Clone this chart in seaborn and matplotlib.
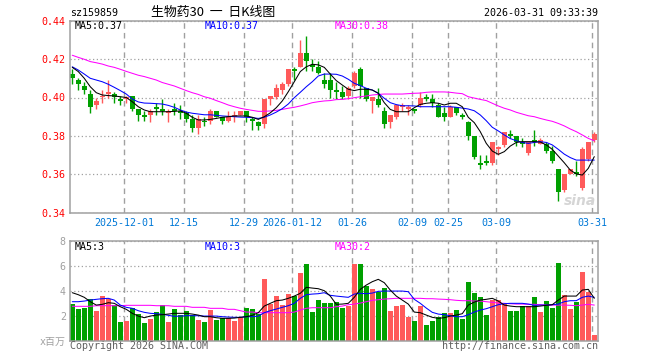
import numpy as np
import pandas as pd
import seaborn as sns
import matplotlib.pyplot as plt

# 88 trading sessions, 2025-11-18 .. 2026-03-31 (index positions)
tick_days = [9, 19, 29, 37, 47, 57, 63, 71, 87]
tick_labels = ["2025-12-01", "12-15", "12-29", "2026-01-12", "01-26",
               "02-09", "02-25", "03-09", "03-31"]

opens = [0.412, 0.409, 0.406, 0.402, 0.396, 0.400, 0.402, 0.402, 0.399, 0.399,
         0.401, 0.394, 0.391, 0.391, 0.395, 0.394, 0.392, 0.394, 0.393, 0.392,
         0.389, 0.384, 0.388, 0.388, 0.393, 0.390, 0.388, 0.390, 0.391, 0.393,
         0.389, 0.387, 0.386, 0.399, 0.400, 0.404, 0.407, 0.415, 0.416, 0.423,
         0.417, 0.416, 0.409, 0.409, 0.404, 0.403, 0.401, 0.406, 0.415, 0.405,
         0.398, 0.399, 0.393, 0.387, 0.390, 0.395, 0.394, 0.394, 0.396, 0.400,
         0.399, 0.396, 0.392, 0.390, 0.395, 0.391, 0.387, 0.380, 0.366, 0.367,
         0.366, 0.373, 0.375, 0.381, 0.380, 0.377, 0.371, 0.378, 0.376, 0.376,
         0.372, 0.363, 0.352, 0.360, 0.361, 0.353, 0.368, 0.378]
highs = [0.415, 0.410, 0.408, 0.404, 0.400, 0.404, 0.409, 0.403, 0.401, 0.401,
         0.401, 0.394, 0.393, 0.394, 0.397, 0.399, 0.394, 0.397, 0.396, 0.393,
         0.391, 0.391, 0.390, 0.394, 0.393, 0.390, 0.393, 0.393, 0.393, 0.393,
         0.390, 0.388, 0.399, 0.401, 0.407, 0.408, 0.415, 0.416, 0.430, 0.432,
         0.420, 0.419, 0.413, 0.413, 0.408, 0.406, 0.406, 0.414, 0.416, 0.405,
         0.400, 0.405, 0.395, 0.391, 0.396, 0.397, 0.396, 0.394, 0.403, 0.402,
         0.402, 0.397, 0.395, 0.396, 0.395, 0.392, 0.388, 0.380, 0.370, 0.370,
         0.377, 0.375, 0.382, 0.383, 0.380, 0.379, 0.377, 0.383, 0.379, 0.377,
         0.375, 0.363, 0.360, 0.363, 0.367, 0.374, 0.377, 0.382]
lows = [0.407, 0.404, 0.402, 0.392, 0.394, 0.397, 0.400, 0.397, 0.396, 0.397,
        0.393, 0.388, 0.388, 0.387, 0.391, 0.391, 0.387, 0.391, 0.389, 0.387,
        0.382, 0.381, 0.385, 0.386, 0.390, 0.386, 0.387, 0.387, 0.391, 0.387,
        0.383, 0.383, 0.384, 0.396, 0.399, 0.402, 0.406, 0.409, 0.416, 0.414,
        0.414, 0.412, 0.405, 0.400, 0.399, 0.399, 0.399, 0.405, 0.400, 0.398,
        0.392, 0.395, 0.384, 0.384, 0.389, 0.393, 0.391, 0.392, 0.395, 0.398,
        0.395, 0.390, 0.388, 0.390, 0.391, 0.389, 0.378, 0.368, 0.363, 0.365,
        0.365, 0.370, 0.374, 0.379, 0.375, 0.374, 0.370, 0.375, 0.376, 0.371,
        0.366, 0.346, 0.351, 0.360, 0.359, 0.352, 0.367, 0.377]
closes = [0.410, 0.407, 0.404, 0.395, 0.398, 0.401, 0.403, 0.400, 0.398, 0.400,
          0.394, 0.391, 0.390, 0.393, 0.394, 0.393, 0.393, 0.393, 0.392, 0.389,
          0.384, 0.389, 0.387, 0.393, 0.390, 0.388, 0.390, 0.391, 0.393, 0.390,
          0.388, 0.385, 0.399, 0.401, 0.405, 0.407, 0.415, 0.414, 0.423, 0.419,
          0.416, 0.413, 0.407, 0.404, 0.403, 0.400, 0.405, 0.413, 0.406, 0.399,
          0.400, 0.396, 0.386, 0.391, 0.396, 0.396, 0.395, 0.393, 0.400, 0.399,
          0.397, 0.390, 0.390, 0.395, 0.392, 0.390, 0.380, 0.369, 0.365, 0.366,
          0.377, 0.374, 0.382, 0.380, 0.377, 0.376, 0.377, 0.377, 0.378, 0.372,
          0.367, 0.351, 0.360, 0.363, 0.360, 0.373, 0.377, 0.381]

# volume, millions
volume = [2.93, 2.53, 2.61, 3.33, 2.37, 3.57, 3.36, 2.85, 1.49, 1.57,
          2.61, 2.13, 1.41, 1.73, 2.29, 2.83, 1.49, 2.53, 2.05, 2.37,
          2.05, 1.65, 1.49, 2.45, 1.65, 1.81, 1.81, 1.57, 1.89, 2.61,
          2.53, 2.13, 4.93, 2.91, 3.57, 2.85, 3.73, 3.57, 5.41, 6.13,
          2.29, 3.25, 3.01, 3.01, 3.09, 2.61, 2.77, 6.13, 6.13, 4.37,
          4.13, 3.89, 4.21, 2.37, 2.77, 2.85, 1.89, 1.57, 2.77, 1.25,
          1.57, 1.89, 2.21, 2.21, 2.45, 1.73, 4.69, 3.81, 3.49, 2.05,
          3.25, 3.25, 2.93, 2.37, 2.37, 2.77, 2.77, 3.49, 2.29, 3.17,
          2.61, 6.21, 3.65, 2.53, 3.09, 5.49, 3.89, 0.45]

# moving averages as shown on the chart
ma5 = [0.4157, 0.4135, 0.410, 0.4056, 0.4025, 0.4013, 0.401, 0.4008, 0.4004, 0.400,
       0.3978, 0.3952, 0.3935, 0.3926, 0.3926, 0.3926, 0.3926, 0.3928, 0.393, 0.3918,
       0.3897, 0.3883, 0.3883, 0.3886, 0.3891, 0.3897, 0.390, 0.3904, 0.3904, 0.3904,
       0.3897, 0.3886, 0.390, 0.392, 0.3947, 0.3982, 0.403, 0.4082, 0.4135, 0.416,
       0.4173, 0.417, 0.4157, 0.4122, 0.4088, 0.4065, 0.4043, 0.4036, 0.4043, 0.4043,
       0.4039, 0.4022, 0.3973, 0.3938, 0.3926, 0.3926, 0.3926, 0.3947, 0.3964, 0.397,
       0.3973, 0.397, 0.3961, 0.397, 0.397, 0.3952, 0.3897, 0.3869, 0.3822, 0.3761,
       0.3721, 0.3704, 0.3718, 0.3747, 0.3766, 0.377, 0.377, 0.377, 0.3768, 0.3753,
       0.373, 0.3695, 0.366, 0.3622, 0.3602, 0.3596, 0.3631, 0.3692]
ma10 = [0.416, 0.4143, 0.4122, 0.410, 0.4091, 0.4082, 0.4069, 0.4053, 0.4036, 0.4018,
        0.3992, 0.3977, 0.3971, 0.397, 0.3968, 0.3966, 0.3959, 0.3949, 0.3935, 0.3924,
        0.3918, 0.3914, 0.391, 0.391, 0.3907, 0.3904, 0.3902, 0.390, 0.3898, 0.3897,
        0.3895, 0.3891, 0.3897, 0.3909, 0.3924, 0.3942, 0.3966, 0.3999, 0.4027, 0.4056,
        0.4082, 0.4112, 0.4122, 0.4122, 0.4121, 0.4112, 0.4095, 0.4074, 0.4062, 0.4048,
        0.4039, 0.4022, 0.3996, 0.3973, 0.3963, 0.3957, 0.3957, 0.3956, 0.3952, 0.3952,
        0.3952, 0.3952, 0.3952, 0.3952, 0.3949, 0.3945, 0.394, 0.3931, 0.3909, 0.3879,
        0.3845, 0.3826, 0.3805, 0.3786, 0.3775, 0.3766, 0.3761, 0.3766, 0.377, 0.3766,
        0.3753, 0.373, 0.3705, 0.3687, 0.3674, 0.3674, 0.3674, 0.3674]
ma30 = [0.422, 0.4209, 0.4199, 0.4187, 0.4181, 0.4174, 0.4164, 0.4157, 0.4147, 0.4136,
        0.4126, 0.4116, 0.4109, 0.410, 0.4091, 0.4078, 0.4069, 0.406, 0.4048, 0.4036,
        0.4025, 0.4016, 0.4004, 0.3996, 0.3984, 0.3973, 0.3961, 0.3952, 0.3944, 0.3938,
        0.3933, 0.3928, 0.3928, 0.393, 0.3933, 0.3938, 0.3944, 0.3949, 0.3956, 0.3964,
        0.3973, 0.3978, 0.3982, 0.3984, 0.3989, 0.399, 0.3994, 0.3999, 0.4004, 0.4008,
        0.4013, 0.4016, 0.4018, 0.4018, 0.4018, 0.4018, 0.402, 0.4022, 0.4023, 0.4027,
        0.4029, 0.4029, 0.4029, 0.4027, 0.4023, 0.402, 0.4004, 0.3997, 0.399, 0.3984,
        0.397, 0.3956, 0.3944, 0.3935, 0.3923, 0.3914, 0.3905, 0.390, 0.3891, 0.3883,
        0.3876, 0.3865, 0.3852, 0.3836, 0.3822, 0.3805, 0.3787, 0.3775]
vma5 = [3.84, 3.68, 3.47, 3.12, 2.85, 2.91, 3.04, 2.99, 2.72, 2.51,
        2.19, 1.97, 1.84, 1.97, 2.05, 2.08, 2.13, 2.19, 2.19, 2.19,
        2.13, 2.05, 1.92, 1.92, 1.84, 1.79, 1.79, 1.81, 1.87, 1.92,
        2.03, 2.24, 2.77, 2.99, 3.20, 3.25, 3.39, 3.57, 3.79, 4.27,
        4.21, 4.16, 4.00, 3.57, 2.91, 2.93, 2.99, 3.47, 4.11, 4.45,
        4.72, 4.91, 4.64, 4.05, 3.57, 3.25, 2.93, 2.29, 2.24, 2.05,
        1.87, 1.79, 1.84, 1.97, 2.05, 2.16, 2.85, 3.09, 3.25, 3.31,
        3.39, 3.17, 2.85, 2.77, 2.72, 2.72, 2.72, 2.72, 2.77, 2.83,
        2.88, 3.25, 3.57, 3.57, 3.57, 4.05, 4.11, 3.39]
vma10 = [3.12, 3.12, 3.17, 3.25, 3.31, 3.36, 3.39, 3.25, 2.85, 2.67,
         2.59, 2.40, 2.27, 2.19, 2.16, 2.11, 2.03, 1.95, 1.97, 2.00,
         2.00, 2.00, 1.97, 1.97, 1.97, 1.92, 1.89, 1.87, 1.87, 1.92,
         1.92, 1.97, 2.24, 2.40, 2.53, 2.67, 2.80, 2.99, 3.39, 3.68,
         3.73, 3.76, 3.84, 3.63, 3.57, 3.52, 3.47, 3.73, 3.79, 3.76,
         3.81, 3.95, 3.97, 3.97, 3.97, 3.97, 3.92, 3.31, 2.99, 2.61,
         2.27, 2.13, 2.08, 2.00, 1.92, 1.92, 2.08, 2.29, 2.45, 2.56,
         2.72, 2.88, 2.96, 2.99, 2.99, 2.99, 2.93, 2.83, 2.85, 2.85,
         2.88, 2.93, 3.12, 3.20, 3.20, 3.47, 3.57, 3.47]
vma30 = [2.75, 2.75, 2.75, 2.75, 2.80, 2.80, 2.80, 2.80, 2.80, 2.83,
         2.83, 2.83, 2.83, 2.83, 2.80, 2.80, 2.80, 2.75, 2.75, 2.75,
         2.67, 2.67, 2.67, 2.59, 2.59, 2.59, 2.51, 2.51, 2.40, 2.29,
         2.29, 2.24, 2.24, 2.24, 2.24, 2.24, 2.24, 2.29, 2.45, 2.59,
         2.64, 2.64, 2.64, 2.64, 2.72, 2.77, 2.88, 2.93, 3.01, 3.12,
         3.23, 3.28, 3.33, 3.36, 3.39, 3.39, 3.39, 3.39, 3.39, 3.36,
         3.36, 3.33, 3.31, 3.28, 3.23, 3.20, 3.20, 3.17, 3.17, 3.12,
         3.07, 3.01, 2.99, 2.96, 2.93, 2.93, 2.91, 2.91, 2.88, 2.85,
         2.85, 2.85, 2.85, 2.83, 2.80, 2.85, 2.91, 2.85]

RED = "#FF5A5A"
GREEN = "#00A000"
GRID = "#A0A0A0"
W, H = 660, 360

sns.set_theme(style="white")
plt.rcParams["font.family"] = ["DejaVu Sans Mono", "Noto Sans CJK SC"]

df = pd.DataFrame({"day": np.arange(len(closes)), "open": opens, "high": highs,
                   "low": lows, "close": closes, "vol": volume})
df["dir"] = np.where(df["close"] >= df["open"], "up", "down")
colors = df["dir"].map({"up": RED, "down": GREEN})

fig = plt.figure(figsize=(W / 100, H / 100), dpi=100)
axp = fig.add_axes([70 / W, 1 - 212.7 / H, 528 / W, 192 / H])
axv = fig.add_axes([70 / W, 1 - 340.7 / H, 528 / W, 100 / H])

# candles
axp.vlines(df["day"], df["low"], df["high"], colors=colors, lw=1, zorder=2)
body = (df["close"] - df["open"]).abs().clip(lower=0.0005)
axp.bar(df["day"], body, bottom=df[["open", "close"]].min(axis=1), width=0.83,
        color=colors, linewidth=0, zorder=2)
for vals, c in [(ma30, "#FF00FF"), (ma10, "#0000FF"), (ma5, "black")]:
    sns.lineplot(x=df["day"], y=vals, color=c, lw=0.75, ax=axp, zorder=3)

# volume
sns.barplot(data=df, x="day", y="vol", hue="dir", palette={"up": RED, "down": GREEN},
            native_scale=True, dodge=False, width=0.83, saturation=1, errorbar=None,
            legend=False, linewidth=0, ax=axv)
for vals, c in [(vma30, "#FF00FF"), (vma10, "#0000FF"), (vma5, "black")]:
    sns.lineplot(x=df["day"], y=vals, color=c, lw=0.75, ax=axv, zorder=3)

grid_x = [d - 0.37 for d in tick_days]
for ax in (axp, axv):
    ax.set_xlim(-0.38, 87.62)
    ax.set_xlabel("")
    ax.set_ylabel("")
    ax.set_xticks(grid_x)
    ax.grid(axis="x", color=GRID, ls=(0, (4, 3)), lw=1.0)
    ax.grid(axis="y", color=GRID, ls=(0, (1, 2)), lw=0.9)
    ax.tick_params(length=0)
    for s in ax.spines.values():
        s.set_color(GRID)
        s.set_linewidth(1.1)

axp.set_ylim(0.34, 0.44)
axp.set_yticks([0.34, 0.36, 0.38, 0.40, 0.42, 0.44])
axp.set_yticklabels(["0.34", "0.36", "0.38", "0.40", "0.42", "0.44"],
                    color="#FF0000", fontsize=7.2)
axp.tick_params(axis="y", pad=3)
axp.set_xticklabels(tick_labels, color="#0078D7", fontsize=7.2)
axp.tick_params(axis="x", pad=3.5)

axv.set_ylim(0, 8)
axv.set_yticks([0, 2, 4, 6, 8])
axv.set_yticklabels(["x百万", "2", "4", "6", "8"], color="#A0A0A0", fontsize=7.2)
axv.tick_params(axis="y", pad=3)
axv.set_xticklabels([])


def px_text(x, y, s, **kw):
    fig.text(x / W, 1 - y / H, s, va="center", **kw)


px_text(70, 13, "sz159859", fontsize=7.2, color="black")
px_text(213, 12.5, "生物药30  一  日K线图", fontsize=9.3, color="black", ha="center",
        family=["Noto Sans CJK SC", "DejaVu Sans"])
px_text(598, 13, "2026-03-31 09:33:39", fontsize=7.2, color="black", ha="right")

px_text(75, 26, "MA5:0.37", fontsize=7.2, color="black")
px_text(205, 26, "MA10:0.37", fontsize=7.2, color="#0000FF")
px_text(335, 26, "MA30:0.38", fontsize=7.2, color="#FF00FF")
px_text(75, 247, "MA5:3", fontsize=7.2, color="black")
px_text(205, 247, "MA10:3", fontsize=7.2, color="#0000FF")
px_text(335, 247, "MA30:2", fontsize=7.2, color="#FF00FF")

px_text(70, 346, "Copyright 2026 SINA.COM", fontsize=7.2, color="#606060")
px_text(598, 346, "http://finance.sina.com.cn", fontsize=7.2, color="#606060", ha="right")
px_text(596, 201, "sina", fontsize=10, color="#D5D5D5", ha="right",
        family="DejaVu Sans", style="italic", weight="bold")

fig.savefig("out.png", dpi=100)
